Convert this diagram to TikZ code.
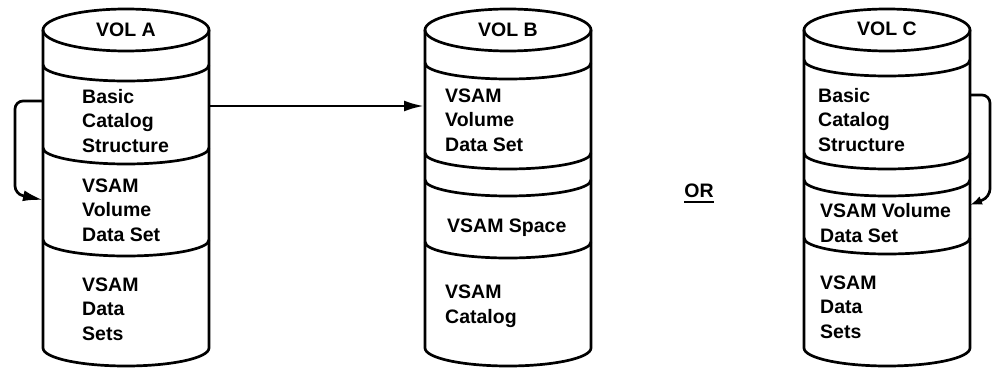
\documentclass[tikz,border=0pt]{standalone}
\usepackage{fontspec}
\setmainfont{Liberation Sans}
\usetikzlibrary{arrows.meta,positioning}

\begin{document}
\begin{tikzpicture}[x=1pt,y=-1pt]
    \tikzset{Wall/.style={line width=2.7pt, line join=round}}
    \tikzset{Label/.style={inner sep=0pt, anchor=base west, align=left, font=\bfseries\fontsize{19.5}{24.5}\selectfont}}
    \tikzset{Title/.style={inner sep=0pt, anchor=base, font=\bfseries\fontsize{19.5}{24.5}\selectfont}}
    \tikzset{Link/.style={line width=2.7pt, -{Latex[length=20pt,width=11pt]}}}

    \useasboundingbox (0,0) rectangle (997,369);

    % the three volumes
    \foreach \cx in {126,508,887}{
        \draw[Wall] (\cx,30) ellipse[x radius=83pt, y radius=21pt];
        \draw[Wall] (\cx-83,30) -- (\cx-83,348)
            arc[start angle=180, end angle=360, x radius=83pt, y radius=18pt] -- (\cx+83,30);
    }
    % dividers
    \foreach \cx/\dy in {126/65,126/148,126/240,
                         508/63,508/153,508/180,508/242,
                         887/60,887/153,887/180,887/238}{
        \draw[Wall] (\cx-83,\dy) arc[start angle=180, end angle=360, x radius=83pt, y radius=16pt];
    }

    % VOL A (labels sit on the baseline of their last line)
    \node[Title](VolA) at (126,37) {VOL A};
    \node[Label](BcsA) at (82,152) {Basic\\Catalog\\Structure};
    \node[Label](VvdsA) at (82,241) {VSAM\\Volume\\Data Set};
    \node[Label](DsA) at (82,340) {VSAM\\Data\\Sets};

    % VOL B
    \node[Title](VolB) at (508,37) {VOL B};
    \node[Label](VvdsB) at (445,151) {VSAM\\Volume\\Data Set};
    \node[Label](SpaceB) at (447,232) {VSAM Space};
    \node[Label](CatB) at (445,323) {VSAM\\Catalog};

    % VOL C
    \node[Title](VolC) at (887,36) {VOL C};
    \node[Label](BcsC) at (818,151) {Basic\\Catalog\\Structure};
    \node[Label](VvdsC) at (820,242) {VSAM Volume\\Data Set};
    \node[Label](DsC) at (820,338) {VSAM\\Data\\Sets};

    \node[Title](Or) at (699,197) {OR};
    \draw[line width=2.6pt] ([yshift=-5pt]Or.base west) -- ([yshift=-5pt]Or.base east);

    \coordinate (AOut) at (209,106);
    \coordinate (BIn) at (424,106);
    \coordinate (ATop) at (43,101);
    \coordinate (ALow) at (43,200);
    \coordinate (CTop) at (970,95);
    \coordinate (CLow) at (970,205);

    \draw[Link] (AOut) -- (BIn);
    \draw[Link, rounded corners=8pt] (ATop) -- (15,101) -- (15,194) -- (ALow);
    \draw[line width=2.7pt, rounded corners=8pt, -{Latex[length=12pt,width=9pt]}]
        (CTop) -- (990,95) -- (990,197) -- (CLow);
\end{tikzpicture}
\end{document}
